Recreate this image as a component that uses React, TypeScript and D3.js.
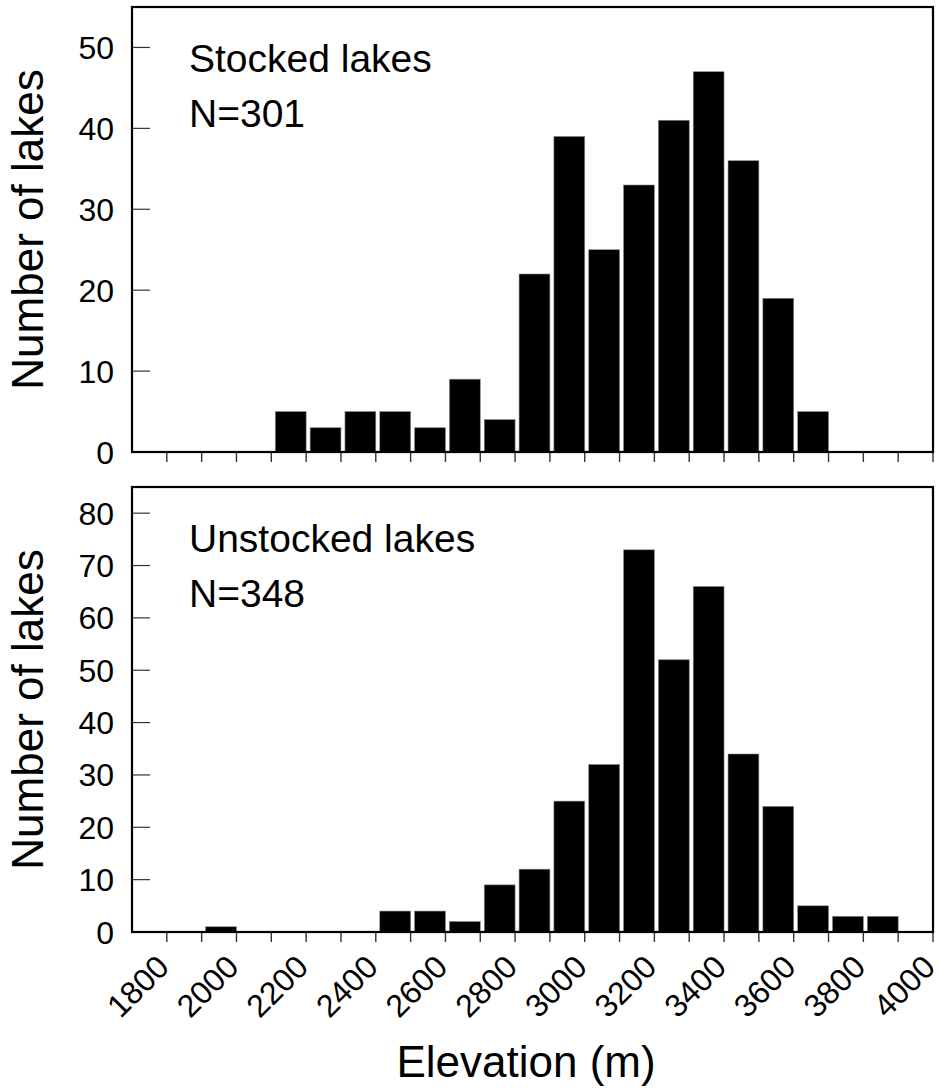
import React from "react";
import * as d3 from "d3";

const binStarts = [1700, 1800, 1900, 2000, 2100, 2200, 2300, 2400, 2500, 2600, 2700, 2800, 2900, 3000, 3100, 3200, 3300, 3400, 3500, 3600, 3700, 3800, 3900];
const stocked = [0, 0, 0, 0, 5, 3, 5, 5, 3, 9, 4, 22, 39, 25, 33, 41, 47, 36, 19, 5, 0, 0, 0];
const unstocked = [0, 0, 1, 0, 0, 0, 0, 4, 4, 2, 9, 12, 25, 32, 73, 52, 66, 34, 24, 5, 3, 3, 0];
const minorTicks = [1800, 1900, 2000, 2100, 2200, 2300, 2400, 2500, 2600, 2700, 2800, 2900, 3000, 3100, 3200, 3300, 3400, 3500, 3600, 3700, 3800, 3900, 4000];
const xLabels = [1800, 2000, 2200, 2400, 2600, 2800, 3000, 3200, 3400, 3600, 3800, 4000];
const yTicksTop = [0, 10, 20, 30, 40, 50];
const yTicksBottom = [0, 10, 20, 30, 40, 50, 60, 70, 80];

const FONT = "'Liberation Sans', Arial, Helvetica, sans-serif";
const W = 941;
const H = 1088;
const left = 132;
const right = 933;

const x = d3.scaleLinear().domain([1700, 4000]).range([left, right]);

type PanelProps = {
  values: number[];
  yMax: number;
  top: number;
  bottom: number;
  ticks: number[];
  title: string;
  n: string;
  showLabels: boolean;
};

function Panel({ values, yMax, top, bottom, ticks, title, n, showLabels }: PanelProps) {
  const y = d3.scaleLinear().domain([0, yMax]).range([bottom, top]);
  const binW = 100;
  return (
    <g>
      {binStarts.map((b, i) =>
        values[i] > 0 ? (
          <rect
            key={b}
            x={x(b) + 4}
            y={y(values[i])}
            width={x(b + binW) - x(b) - 4}
            height={y(0) - y(values[i])}
            fill="#000"
            stroke="#888"
            strokeWidth={0.6}
          />
        ) : null
      )}
      {ticks.map((t) => (
        <g key={t}>
          {t > 0 && (
            <line x1={left} x2={left + 18} y1={y(t)} y2={y(t)} stroke="#333" strokeWidth={1.2} />
          )}
          <text
            x={114}
            y={y(t)}
            dy="0.36em"
            textAnchor="end"
            fontFamily={FONT}
            fontSize={32}
            fill="#000"
          >
            {t}
          </text>
        </g>
      ))}
      {minorTicks.map((t) => (
        <line key={t} x1={x(t)} x2={x(t)} y1={bottom} y2={bottom + 10} stroke="#333" strokeWidth={1.4} />
      ))}
      {showLabels &&
        xLabels.map((t) => (
          <text
            key={t}
            transform={`translate(${x(t) + 4},${bottom + 37}) rotate(-45)`}
            textAnchor="end"
            fontFamily={FONT}
            fontSize={32}
            fill="#000"
          >
            {t}
          </text>
        ))}
      <rect x={left} y={top} width={right - left} height={bottom - top} fill="none" stroke="#000" strokeWidth={2.2} />
      <text
        transform={`translate(43,${(top + bottom) / 2}) rotate(-90)`}
        textAnchor="middle"
        fontFamily={FONT}
        fontSize={44}
        fill="#000"
      >
        Number of lakes
      </text>
      <text x={189} y={top + 65} fontFamily={FONT} fontSize={39} fill="#000">
        {title}
      </text>
      <text x={189} y={top + 120} fontFamily={FONT} fontSize={39} fill="#000">
        {n}
      </text>
    </g>
  );
}

export default function App() {
  return (
    <svg width={W} height={H} style={{ position: "absolute", left: 0, top: 0, background: "#fff" }}>
      <rect x={0} y={0} width={W} height={H} fill="#fff" />
      <Panel values={stocked} yMax={55} top={7} bottom={452} ticks={yTicksTop} title="Stocked lakes" n="N=301" showLabels={false} />
      <Panel values={unstocked} yMax={85} top={487} bottom={932} ticks={yTicksBottom} title="Unstocked lakes" n="N=348" showLabels={true} />
      <text x={526} y={1077} textAnchor="middle" fontFamily={FONT} fontSize={44} fill="#000">
        Elevation (m)
      </text>
    </svg>
  );
}
